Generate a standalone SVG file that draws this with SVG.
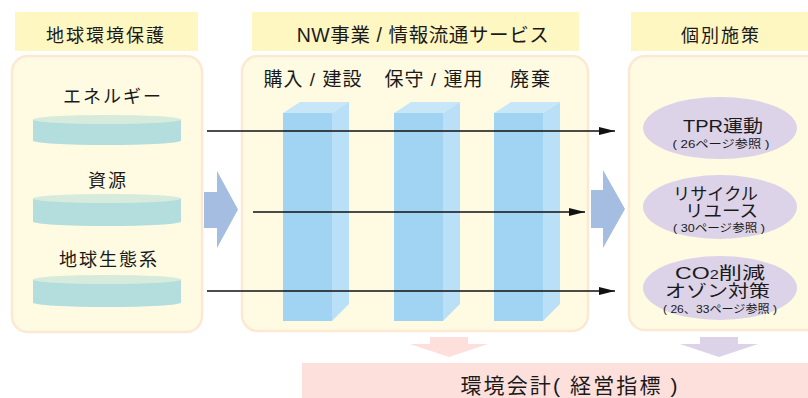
<svg xmlns="http://www.w3.org/2000/svg" width="808" height="398" viewBox="0 0 808 398">
<defs>
<style>
text{font-family:"Liberation Sans","Noto Sans CJK JP",sans-serif;fill:#1a1a1a}
.hdr{fill:#fff7c2}
.panel{fill:#fffbe2;stroke:#fde8d4;stroke-width:2.5}
.h{font-size:18px;text-anchor:middle}
.lbl{font-size:18px;text-anchor:middle}
.cylb{fill:#b3dedd}
.cylt{fill:#d6ebdc}
.pf{fill:#a0d4f2}
.ps{fill:#b9e0f6}
.pt{fill:#c7e7f8}
.ell{fill:#dcd3e8}
.et{font-size:17px;text-anchor:middle}
.es{font-size:11px;text-anchor:middle}
.ln{stroke:#111;stroke-width:1.3;fill:none;marker-end:url(#ah)}
.big{fill:#a4bde0}
</style>
<marker id="ah" markerUnits="userSpaceOnUse" viewBox="0 0 16 8" markerWidth="16" markerHeight="8" refX="16" refY="4" orient="auto">
<path d="M0,0 L16,4 L0,8 z" fill="#111"/>
</marker>
</defs>
<rect width="808" height="398" fill="#ffffff"/>

<g id="left">
<rect class="hdr" x="15" y="12" width="183" height="39"/>
<text class="h" x="106" y="42" letter-spacing="2">地球環境保護</text>
<rect class="panel" x="12" y="56" width="190" height="276" rx="16"/>
</g>
<g id="energy">
<text class="lbl" x="113" y="103" letter-spacing="2">エネルギー</text>
<path class="cylb" d="M33,119.5 L33,140.5 A74,4.5 0 0 0 181,140.5 L181,119.5 z"/>
<ellipse class="cylt" cx="107" cy="119.5" rx="74" ry="4.5"/>
</g>
<g id="resources">
<text class="lbl" x="108" y="187" letter-spacing="2">資源</text>
<path class="cylb" d="M33,198.5 L33,221.5 A74,4.5 0 0 0 181,221.5 L181,198.5 z"/>
<ellipse class="cylt" cx="107" cy="198.5" rx="74" ry="4.5"/>
</g>
<g id="ecosystem">
<text class="lbl" x="109" y="266" letter-spacing="2">地球生態系</text>
<path class="cylb" d="M33,279.5 L33,302.5 A74,4.5 0 0 0 181,302.5 L181,279.5 z"/>
<ellipse class="cylt" cx="107" cy="279.5" rx="74" ry="4.5"/>
</g>

<g id="middle">
<rect class="hdr" x="252" y="12" width="327" height="39"/>
<text x="423" y="42" font-size="19.5px" text-anchor="middle" letter-spacing="0.6">NW事業 / 情報流通サービス</text>
<rect class="panel" x="242" y="56" width="346" height="275" rx="16"/>
</g>
<g id="purchase">
<text x="313" y="86" font-size="19px" text-anchor="middle" letter-spacing="1">購入 / 建設</text>
<polygon class="pt" points="283,113 300,102 349,102 332,113"/>
<polygon class="ps" points="332,113 349,102 349,304 332,321"/>
<rect class="pf" x="283" y="113" width="49" height="208"/>
</g>
<g id="maintenance">
<text x="434" y="86" font-size="19px" text-anchor="middle" letter-spacing="1">保守 / 運用</text>
<polygon class="pt" points="394,113 411,102 460,102 443,113"/>
<polygon class="ps" points="443,113 460,102 460,304 443,321"/>
<rect class="pf" x="394" y="113" width="49" height="208"/>
</g>
<g id="disposal">
<text x="531" y="86" font-size="19px" text-anchor="middle" letter-spacing="2">廃棄</text>
<polygon class="pt" points="494,113 511,102 560,102 543,113"/>
<polygon class="ps" points="543,113 560,102 560,304 543,321"/>
<rect class="pf" x="494" y="113" width="49" height="208"/>
</g>

<g id="right">
<rect class="hdr" x="631" y="12" width="180" height="39"/>
<text class="h" x="721" y="42" letter-spacing="2">個別施策</text>
<rect class="panel" x="629" y="56" width="200" height="274" rx="16"/>
</g>
<g id="tpr">
<ellipse class="ell" cx="720" cy="128" rx="77" ry="31"/>
<text class="et" x="723" y="132" font-size="19px" textLength="80" lengthAdjust="spacingAndGlyphs">TPR運動</text>
<text class="es" x="721" y="148" textLength="97" lengthAdjust="spacingAndGlyphs">( 26ページ参照 )</text>
</g>
<g id="recycle">
<ellipse class="ell" cx="720" cy="207" rx="77" ry="32"/>
<text class="et" x="715.5" y="199.5" font-size="16px" textLength="85" lengthAdjust="spacingAndGlyphs">リサイクル</text>
<text class="et" x="721.5" y="217" font-size="16px" textLength="73" lengthAdjust="spacingAndGlyphs">リユース</text>
<text class="es" x="719" y="232" textLength="92" lengthAdjust="spacingAndGlyphs">( 30ページ参照 )</text>
</g>
<g id="co2">
<ellipse class="ell" cx="720" cy="288" rx="77" ry="32"/>
<text class="et" x="720" y="279" font-size="18px" textLength="90" lengthAdjust="spacingAndGlyphs">CO<tspan font-size="12px">2</tspan>削減</text>
<text class="et" x="717.5" y="297" font-size="18px" textLength="105" lengthAdjust="spacingAndGlyphs">オゾン対策</text>
<text class="es" x="720" y="313" textLength="114" lengthAdjust="spacingAndGlyphs">( 26、33ページ参照 )</text>
</g>

<g id="accounting">
<rect x="302" y="363" width="510" height="40" fill="#fde0dc"/>
<text x="569" y="393" font-size="21px" text-anchor="middle" textLength="217" lengthAdjust="spacing">環境会計( 経営指標 )</text>
</g>

<g id="connectors">
<polygon class="big" points="204,192 217,192 217,171 238,209.5 217,248 217,228 204,228"/>
<polygon class="big" points="591,190 603,190 603,170 625,209 603,248 603,228 591,228"/>
<polygon fill="#fde0dc" points="430,337 468,337 468,344 488,344 449,357 410,344 430,344"/>
<polygon fill="#dcd3e8" points="700,337 738,337 738,344 758,344 719,357 680,344 700,344"/>
<line class="ln" x1="207" y1="131" x2="615" y2="131"/>
<line class="ln" x1="253" y1="212" x2="585" y2="212"/>
<line class="ln" x1="207" y1="291" x2="615" y2="291"/>
</g>
</svg>
